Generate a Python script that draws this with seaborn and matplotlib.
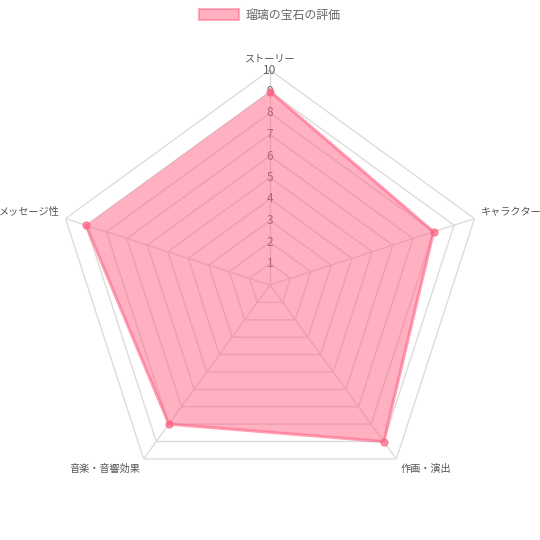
import numpy as np
import matplotlib
matplotlib.use('Agg')
import matplotlib.pyplot as plt
import seaborn as sns
from matplotlib.patches import Patch

# データ
categories = ['ストーリー', 'キャラクター', '作画・演出', '音楽・音響効果', 'メッセージ性']
scores = [9, 8, 9, 8, 9]
tick_levels = [1, 2, 3, 4, 5, 6, 7, 8, 9, 10]
series_name = '瑠璃の宝石の評価'

PINK = '#FF6384'
GRID = '#dcdcdc'
TEXT = '#666666'

sns.set_theme(style="white")
plt.rcParams['font.family'] = ['Noto Sans CJK JP', 'DejaVu Sans']

fig = plt.figure(figsize=(5.4, 5.4), dpi=100)
ax = fig.add_axes([55 / 540, 40 / 540, 430 / 540, 430 / 540], projection='polar')
ax.set_theta_offset(np.pi / 2)
ax.set_theta_direction(-1)
ax.set_ylim(0, 10)
ax.grid(False)
ax.spines['polar'].set_visible(False)
ax.set_xticks([])
ax.set_yticks([])
ax.set_facecolor('white')

n = len(categories)
theta = np.arange(n) * 2 * np.pi / n
theta_closed = np.append(theta, theta[0])

# グリッド（五角形）とスポーク
for lv in tick_levels:
    ax.plot(theta_closed, [lv] * (n + 1), color=GRID, lw=1, zorder=1)
for t in theta:
    ax.plot([t, t], [0, 10], color=GRID, lw=1, zorder=1)

# 目盛りラベル
for lv in tick_levels:
    ax.text(0, lv, str(lv), ha='center', va='center', fontsize=8.6,
            color=TEXT, zorder=2 if lv < 10 else 5)

# データ
vals_closed = np.append(scores, scores[0])
ax.fill(theta_closed, vals_closed, color=PINK, alpha=0.5, lw=0, zorder=3)
sns.lineplot(x=theta_closed, y=vals_closed, sort=False, ax=ax,
             color=PINK, alpha=0.6, lw=2.2, zorder=4)
sns.scatterplot(x=theta, y=scores, ax=ax, color=PINK, alpha=0.7,
                s=25, edgecolor=PINK, linewidth=1, zorder=4)
ax.set_xlabel('')
ax.set_ylabel('')

# 軸ラベル
for t, lab in zip(theta, categories):
    s = np.sin(t)
    c = np.cos(t)
    if abs(s) < 1e-6:
        ha, va, r, dy = 'center', 'center', 10.55, 0
    else:
        ha = 'left' if s > 0 else 'right'
        va = 'center' if c > 0 else 'top'
        r = 10.3
        dy = 3 if c > 0 else 0
    ax.annotate(lab, xy=(t, r), xytext=(0, dy),
                textcoords='offset points', ha=ha, va=va, fontsize=7.3,
                color='#555555', annotation_clip=False)

# 凡例
handle = Patch(facecolor=PINK, alpha=0.5, edgecolor=PINK, linewidth=1.5)
fig.legend([handle], [series_name], loc='center', bbox_to_anchor=(0.5, 1 - 15 / 540),
           frameon=False, fontsize=8.6, handlelength=3.3, handleheight=1.0,
           labelcolor=TEXT, handletextpad=0.6)

fig.savefig('out.png', dpi=100)
